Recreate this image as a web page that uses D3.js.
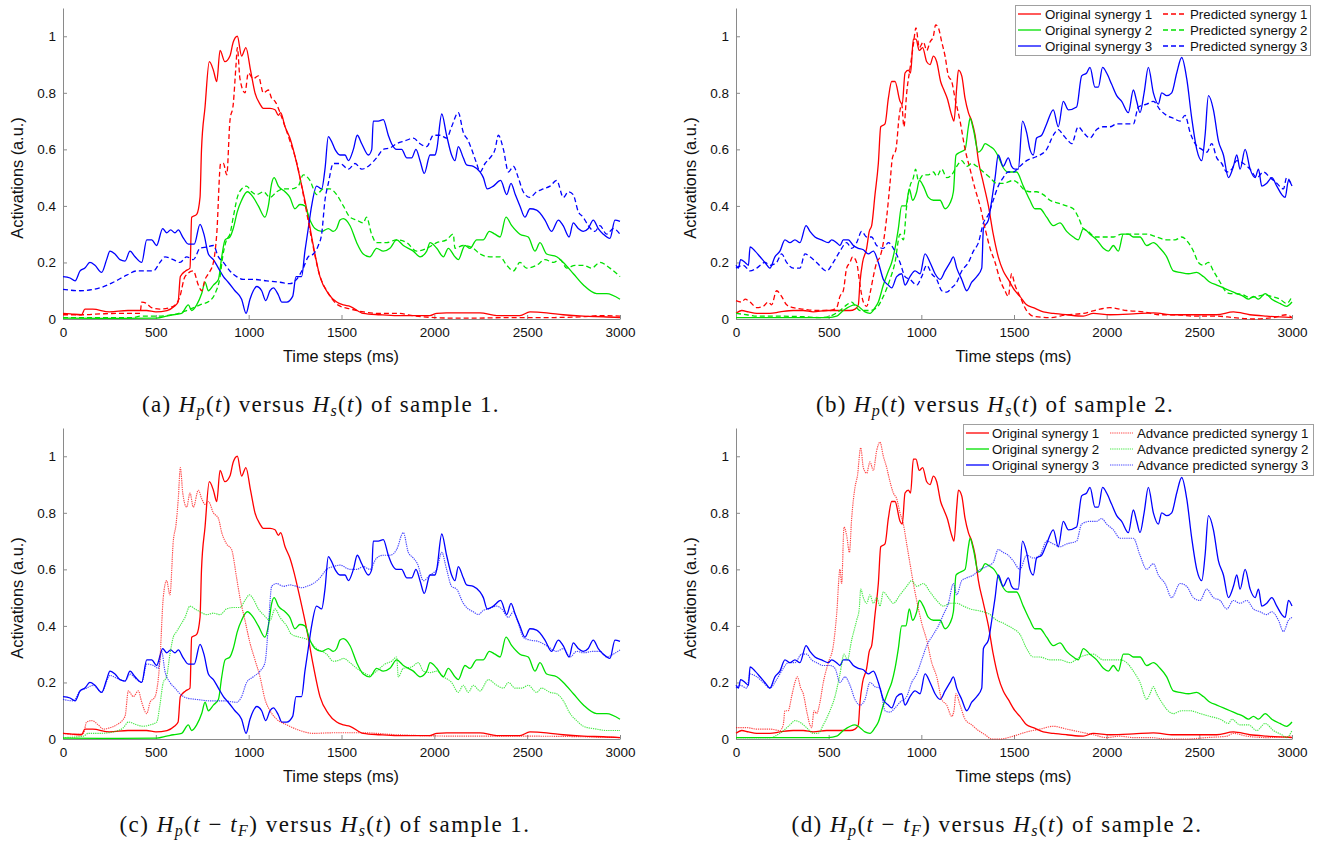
<!DOCTYPE html>
<html>
<head>
<meta charset="utf-8">
<script src="https://cdn.jsdelivr.net/npm/d3@7"></script>
<style>
  html, body { margin: 0; padding: 0; background: #fff; }
  svg { display: block; }
</style>
</head>
<body>
<svg id="chart" width="1330" height="843"></svg>
<script>
// ---------------- DATA ----------------
const xTicks = [0, 500, 1000, 1500, 2000, 2500, 3000];
const yTicks = [0, 0.2, 0.4, 0.6, 0.8, 1];
const yTickLabels = ["0", "0.2", "0.4", "0.6", "0.8", "1"];
const xLabel = "Time steps (ms)";
const yLabel = "Activations (a.u.)";
const origNames = ["Original synergy 1", "Original synergy 2", "Original synergy 3"];
const predNames = ["Predicted synergy 1", "Predicted synergy 2", "Predicted synergy 3"];
const advNames = ["Advance predicted synergy 1", "Advance predicted synergy 2", "Advance predicted synergy 3"];
const seriesColors = ["#ff0000", "#00e100", "#0000ff"];

// Sample 1 — original synergies [time ms, activation]
const s1_orig1 = [[0,0.02],[40,0.018],[100,0.015],[118,0.035],[160,0.035],[250,0.025],[350,0.03],[450,0.03],[500,0.025],[560,0.03],[600,0.045],[620,0.06],[632,0.15],[660,0.17],[684,0.18],[693,0.36],[720,0.37],[738,0.43],[746,0.6],[765,0.75],[788,0.91],[810,0.88],[828,0.84],[846,0.95],[872,0.91],[899,0.93],[917,0.98],[939,1.0],[962,0.93],[985,0.96],[1010,0.88],[1034,0.8],[1061,0.76],[1079,0.745],[1115,0.745],[1142,0.74],[1160,0.72],[1172,0.73],[1196,0.68],[1222,0.64],[1240,0.6],[1276,0.5],[1312,0.39],[1348,0.26],[1384,0.15],[1429,0.09],[1474,0.06],[1510,0.05],[1546,0.045],[1617,0.02],[1707,0.015],[1800,0.012],[1976,0.012],[2013,0.02],[2066,0.022],[2246,0.022],[2336,0.012],[2461,0.012],[2515,0.025],[2605,0.022],[2694,0.015],[2802,0.01],[2910,0.008],[3000,0.005]];
const s1_orig2 = [[0,0.003],[300,0.002],[505,0.003],[558,0.01],[594,0.015],[639,0.02],[675,0.05],[693,0.03],[720,0.05],[747,0.09],[765,0.13],[783,0.1],[810,0.12],[837,0.14],[855,0.22],[873,0.28],[899,0.29],[917,0.32],[939,0.38],[962,0.42],[993,0.45],[1025,0.43],[1052,0.4],[1088,0.36],[1106,0.4],[1124,0.48],[1137,0.5],[1160,0.47],[1196,0.45],[1222,0.43],[1249,0.39],[1276,0.405],[1303,0.4],[1330,0.35],[1357,0.32],[1393,0.31],[1429,0.32],[1456,0.31],[1474,0.32],[1492,0.35],[1510,0.355],[1546,0.33],[1582,0.27],[1617,0.23],[1653,0.22],[1689,0.25],[1725,0.24],[1761,0.25],[1797,0.28],[1833,0.26],[1887,0.24],[1923,0.22],[1959,0.24],[1977,0.27],[2013,0.25],[2049,0.22],[2075,0.25],[2111,0.22],[2129,0.21],[2165,0.26],[2192,0.25],[2228,0.28],[2264,0.28],[2296,0.31],[2327,0.3],[2354,0.29],[2386,0.36],[2417,0.33],[2461,0.3],[2506,0.29],[2542,0.24],[2569,0.27],[2605,0.23],[2659,0.22],[2695,0.2],[2749,0.16],[2803,0.12],[2874,0.09],[2928,0.09],[3000,0.07]];
const s1_orig3 = [[0,0.15],[38,0.145],[65,0.135],[92,0.17],[118,0.18],[145,0.2],[172,0.19],[208,0.165],[235,0.21],[253,0.24],[280,0.23],[307,0.21],[334,0.205],[361,0.24],[388,0.22],[424,0.2],[451,0.28],[478,0.28],[504,0.26],[537,0.32],[558,0.305],[580,0.315],[603,0.305],[621,0.315],[645,0.29],[675,0.265],[707,0.265],[738,0.335],[759,0.3],[783,0.23],[810,0.21],[837,0.18],[864,0.15],[890,0.13],[926,0.1],[962,0.07],[986,0.02],[1007,0.07],[1025,0.1],[1043,0.115],[1070,0.1],[1092,0.065],[1115,0.1],[1133,0.11],[1160,0.085],[1178,0.06],[1205,0.06],[1237,0.08],[1255,0.15],[1285,0.15],[1303,0.24],[1321,0.32],[1339,0.4],[1366,0.47],[1393,0.46],[1411,0.53],[1429,0.645],[1445,0.63],[1465,0.6],[1492,0.58],[1519,0.58],[1537,0.56],[1564,0.6],[1585,0.65],[1609,0.62],[1645,0.58],[1663,0.6],[1671,0.7],[1698,0.7],[1725,0.705],[1752,0.65],[1770,0.62],[1797,0.6],[1824,0.6],[1851,0.57],[1878,0.57],[1901,0.6],[1923,0.56],[1946,0.515],[1977,0.58],[2004,0.58],[2013,0.6],[2040,0.725],[2066,0.65],[2093,0.58],[2111,0.56],[2129,0.61],[2156,0.57],[2174,0.545],[2210,0.54],[2246,0.52],[2264,0.5],[2285,0.46],[2318,0.47],[2357,0.49],[2390,0.44],[2413,0.48],[2436,0.44],[2461,0.4],[2488,0.36],[2515,0.39],[2551,0.385],[2596,0.35],[2631,0.31],[2668,0.35],[2694,0.33],[2726,0.29],[2748,0.34],[2775,0.32],[2802,0.31],[2829,0.32],[2856,0.35],[2883,0.32],[2910,0.3],[2946,0.285],[2973,0.35],[3000,0.345]];

// Sample 1 — predicted synergies
const s1_pred1 = [[0,0.015],[100,0.015],[200,0.018],[300,0.02],[415,0.02],[424,0.06],[450,0.055],[477,0.04],[522,0.035],[594,0.045],[630,0.08],[657,0.15],[702,0.17],[729,0.12],[747,0.1],[765,0.14],[783,0.16],[810,0.2],[828,0.3],[849,0.55],[864,0.55],[882,0.51],[899,0.7],[917,0.76],[932,0.9],[939,0.96],[953,0.85],[980,0.8],[998,0.87],[1025,0.85],[1052,0.86],[1079,0.8],[1106,0.81],[1124,0.78],[1142,0.77],[1169,0.73],[1196,0.68],[1222,0.63],[1260,0.55],[1300,0.42],[1340,0.28],[1380,0.16],[1430,0.09],[1480,0.05],[1550,0.035],[1620,0.025],[1700,0.02],[1800,0.02],[1900,0.01],[2000,0.005],[2100,0.003],[2200,0.003],[2400,0.005],[2600,0.005],[2800,0.008],[2900,0.012],[3000,0.01]];
const s1_pred2 = [[0,0.005],[200,0.005],[379,0.005],[415,0.01],[487,0.01],[594,0.015],[666,0.03],[738,0.05],[792,0.065],[819,0.09],[846,0.15],[860,0.22],[881,0.28],[899,0.3],[917,0.36],[939,0.43],[962,0.46],[989,0.47],[1016,0.45],[1043,0.44],[1079,0.45],[1115,0.43],[1151,0.45],[1187,0.46],[1231,0.46],[1267,0.47],[1294,0.51],[1330,0.49],[1366,0.44],[1402,0.46],[1438,0.46],[1474,0.44],[1510,0.4],[1546,0.36],[1582,0.35],[1617,0.34],[1635,0.36],[1662,0.3],[1689,0.27],[1743,0.27],[1797,0.28],[1851,0.27],[1905,0.24],[1959,0.25],[2013,0.27],[2066,0.28],[2102,0.3],[2111,0.25],[2156,0.26],[2210,0.25],[2246,0.23],[2300,0.22],[2354,0.22],[2390,0.19],[2426,0.17],[2461,0.2],[2497,0.18],[2551,0.19],[2596,0.21],[2641,0.2],[2677,0.21],[2713,0.18],[2758,0.19],[2803,0.19],[2847,0.18],[2892,0.2],[2946,0.18],[3000,0.15]];
const s1_pred3 = [[0,0.105],[92,0.1],[199,0.11],[271,0.13],[343,0.155],[397,0.17],[451,0.17],[487,0.17],[522,0.2],[549,0.22],[594,0.21],[630,0.2],[666,0.22],[702,0.21],[738,0.25],[774,0.255],[810,0.26],[837,0.22],[864,0.2],[899,0.17],[935,0.15],[971,0.14],[1025,0.14],[1097,0.135],[1169,0.13],[1222,0.125],[1258,0.14],[1294,0.18],[1321,0.22],[1348,0.23],[1375,0.26],[1393,0.3],[1411,0.42],[1429,0.48],[1456,0.55],[1492,0.55],[1537,0.53],[1573,0.55],[1609,0.53],[1653,0.545],[1689,0.57],[1725,0.6],[1761,0.605],[1797,0.62],[1842,0.63],[1887,0.64],[1923,0.62],[1959,0.61],[1995,0.65],[2031,0.65],[2066,0.64],[2093,0.68],[2129,0.73],[2156,0.66],[2183,0.63],[2201,0.6],[2228,0.55],[2246,0.52],[2273,0.55],[2300,0.57],[2327,0.6],[2345,0.65],[2372,0.6],[2399,0.52],[2426,0.54],[2452,0.5],[2479,0.45],[2515,0.43],[2551,0.45],[2587,0.46],[2623,0.47],[2659,0.49],[2695,0.43],[2722,0.45],[2748,0.44],[2775,0.38],[2802,0.36],[2829,0.33],[2865,0.31],[2892,0.33],[2928,0.3],[2964,0.32],[3000,0.3]];

// Sample 1 — advance predicted synergies
const s1_adv1 = [[0,0.02],[56,0.015],[110,0.02],[127,0.06],[154,0.065],[190,0.05],[217,0.035],[253,0.04],[289,0.05],[334,0.08],[352,0.17],[379,0.15],[406,0.17],[424,0.13],[451,0.09],[469,0.13],[496,0.15],[522,0.28],[540,0.5],[558,0.56],[576,0.51],[594,0.7],[609,0.76],[621,0.85],[632,0.96],[645,0.87],[666,0.82],[684,0.87],[702,0.82],[729,0.88],[747,0.85],[765,0.83],[783,0.84],[810,0.8],[837,0.78],[855,0.73],[881,0.69],[908,0.67],[935,0.57],[953,0.5],[980,0.42],[1007,0.34],[1034,0.28],[1061,0.22],[1088,0.14],[1115,0.1],[1151,0.07],[1205,0.05],[1276,0.03],[1348,0.02],[1456,0.022],[1617,0.022],[1797,0.015],[2156,0.01],[2515,0.01],[3000,0.005]];
const s1_adv2 = [[0,0.005],[110,0.01],[136,0.02],[199,0.02],[271,0.025],[325,0.04],[352,0.06],[397,0.05],[433,0.045],[469,0.05],[505,0.06],[522,0.12],[540,0.2],[558,0.22],[576,0.3],[594,0.36],[612,0.38],[630,0.4],[657,0.43],[684,0.47],[711,0.46],[738,0.45],[774,0.44],[810,0.445],[846,0.44],[881,0.46],[917,0.465],[953,0.465],[980,0.49],[1004,0.51],[1025,0.495],[1052,0.46],[1079,0.44],[1115,0.42],[1142,0.46],[1169,0.43],[1205,0.4],[1231,0.37],[1276,0.36],[1321,0.35],[1366,0.32],[1420,0.3],[1456,0.275],[1492,0.28],[1510,0.285],[1546,0.27],[1582,0.25],[1617,0.235],[1653,0.225],[1689,0.24],[1734,0.265],[1770,0.275],[1797,0.29],[1806,0.22],[1833,0.25],[1878,0.255],[1914,0.27],[1941,0.24],[1977,0.235],[2013,0.24],[2049,0.22],[2093,0.2],[2129,0.165],[2156,0.19],[2183,0.165],[2210,0.19],[2246,0.17],[2291,0.21],[2336,0.19],[2372,0.18],[2399,0.2],[2435,0.18],[2470,0.18],[2506,0.19],[2551,0.165],[2578,0.18],[2623,0.165],[2659,0.16],[2695,0.135],[2731,0.09],[2767,0.065],[2803,0.045],[2874,0.035],[2928,0.03],[3000,0.03]];
const s1_adv3 = [[0,0.14],[56,0.135],[92,0.17],[127,0.18],[163,0.19],[208,0.165],[253,0.225],[289,0.215],[334,0.205],[361,0.23],[397,0.21],[424,0.2],[451,0.265],[487,0.26],[513,0.25],[531,0.31],[549,0.24],[576,0.2],[603,0.18],[630,0.16],[666,0.145],[720,0.14],[792,0.135],[864,0.135],[935,0.13],[962,0.15],[989,0.2],[1025,0.22],[1061,0.24],[1088,0.27],[1106,0.4],[1124,0.54],[1151,0.55],[1187,0.54],[1222,0.545],[1258,0.54],[1285,0.535],[1312,0.54],[1348,0.55],[1384,0.57],[1420,0.6],[1456,0.61],[1492,0.615],[1546,0.6],[1582,0.6],[1617,0.61],[1653,0.6],[1689,0.64],[1725,0.65],[1761,0.65],[1797,0.67],[1833,0.73],[1860,0.66],[1887,0.64],[1909,0.62],[1941,0.56],[1977,0.58],[2013,0.6],[2040,0.66],[2066,0.6],[2093,0.54],[2120,0.53],[2156,0.48],[2183,0.46],[2210,0.45],[2237,0.44],[2264,0.455],[2291,0.46],[2336,0.47],[2363,0.46],[2399,0.43],[2426,0.45],[2452,0.41],[2479,0.36],[2515,0.35],[2560,0.345],[2605,0.33],[2659,0.31],[2695,0.32],[2731,0.29],[2767,0.31],[2802,0.305],[2856,0.31],[2892,0.31],[2928,0.29],[2964,0.3],[3000,0.315]];

// Sample 2 — original synergies
const s2_orig1 = [[0,0.02],[31,0.03],[67,0.025],[112,0.02],[183,0.02],[237,0.025],[309,0.03],[363,0.03],[417,0.025],[489,0.03],[561,0.03],[615,0.03],[642,0.035],[660,0.05],[669,0.13],[683,0.2],[705,0.25],[719,0.31],[732,0.33],[750,0.44],[768,0.55],[781,0.68],[804,0.69],[822,0.78],[840,0.84],[858,0.84],[885,0.77],[897,0.76],[912,0.87],[930,0.88],[942,0.87],[957,0.99],[971,0.99],[989,0.95],[1007,0.96],[1029,0.91],[1047,0.9],[1065,0.93],[1083,0.91],[1104,0.84],[1122,0.81],[1140,0.78],[1164,0.72],[1176,0.7],[1191,0.82],[1200,0.88],[1218,0.86],[1236,0.78],[1254,0.73],[1272,0.7],[1290,0.65],[1308,0.56],[1335,0.48],[1362,0.4],[1388,0.3],[1415,0.22],[1442,0.17],[1469,0.14],[1505,0.1],[1532,0.08],[1568,0.05],[1604,0.04],[1658,0.025],[1712,0.02],[1784,0.015],[1874,0.01],[1928,0.02],[2018,0.015],[2144,0.018],[2252,0.022],[2360,0.015],[2504,0.015],[2594,0.015],[2684,0.025],[2773,0.015],[2863,0.01],[3000,0.005]];
const s2_orig2 = [[0,0.005],[300,0.005],[500,0.005],[543,0.01],[579,0.03],[642,0.05],[669,0.04],[696,0.025],[723,0.02],[750,0.04],[768,0.06],[795,0.12],[822,0.17],[840,0.2],[858,0.25],[876,0.32],[894,0.4],[917,0.4],[935,0.46],[953,0.42],[975,0.45],[989,0.49],[1011,0.47],[1038,0.43],[1065,0.42],[1101,0.42],[1128,0.39],[1155,0.41],[1173,0.45],[1187,0.58],[1209,0.59],[1236,0.6],[1254,0.68],[1263,0.71],[1281,0.67],[1308,0.59],[1326,0.6],[1344,0.62],[1371,0.61],[1392,0.6],[1415,0.575],[1442,0.535],[1469,0.52],[1496,0.52],[1514,0.52],[1550,0.47],[1586,0.42],[1613,0.39],[1640,0.39],[1676,0.36],[1712,0.33],[1748,0.34],[1784,0.31],[1820,0.29],[1847,0.28],[1874,0.32],[1910,0.3],[1946,0.28],[1982,0.25],[2009,0.24],[2036,0.26],[2063,0.24],[2090,0.3],[2117,0.3],[2144,0.29],[2180,0.29],[2216,0.26],[2252,0.27],[2288,0.25],[2324,0.22],[2360,0.17],[2396,0.165],[2441,0.16],[2486,0.165],[2522,0.15],[2558,0.13],[2594,0.12],[2630,0.11],[2666,0.1],[2702,0.09],[2738,0.08],[2765,0.07],[2792,0.08],[2819,0.07],[2855,0.09],[2891,0.07],[2935,0.055],[2971,0.045],[3000,0.06]];
const s2_orig3 = [[0,0.19],[13,0.18],[25,0.21],[49,0.2],[67,0.19],[76,0.255],[103,0.24],[130,0.22],[156,0.2],[183,0.18],[210,0.22],[237,0.24],[264,0.28],[291,0.27],[318,0.28],[345,0.27],[378,0.33],[399,0.31],[426,0.29],[462,0.28],[498,0.27],[516,0.28],[543,0.27],[561,0.26],[579,0.28],[606,0.28],[633,0.26],[660,0.25],[687,0.245],[714,0.23],[741,0.24],[768,0.2],[795,0.14],[822,0.12],[840,0.11],[867,0.15],[894,0.16],[912,0.12],[939,0.15],[966,0.17],[993,0.16],[1020,0.23],[1047,0.2],[1074,0.16],[1101,0.14],[1128,0.17],[1155,0.2],[1173,0.22],[1191,0.18],[1218,0.14],[1245,0.1],[1272,0.13],[1299,0.15],[1326,0.18],[1335,0.32],[1362,0.35],[1380,0.42],[1398,0.5],[1415,0.58],[1442,0.54],[1469,0.57],[1487,0.54],[1505,0.53],[1523,0.53],[1546,0.7],[1568,0.66],[1586,0.6],[1604,0.58],[1622,0.64],[1649,0.65],[1676,0.69],[1712,0.74],[1739,0.68],[1766,0.77],[1793,0.74],[1838,0.75],[1865,0.86],[1892,0.87],[1910,0.89],[1937,0.82],[1955,0.82],[1978,0.89],[2000,0.87],[2027,0.83],[2054,0.79],[2081,0.77],[2117,0.73],[2144,0.81],[2162,0.77],[2180,0.73],[2202,0.8],[2225,0.89],[2252,0.8],[2279,0.76],[2297,0.8],[2324,0.79],[2351,0.8],[2378,0.87],[2405,0.925],[2432,0.85],[2459,0.71],[2486,0.6],[2513,0.56],[2531,0.65],[2549,0.79],[2576,0.74],[2603,0.63],[2630,0.58],[2657,0.5],[2684,0.54],[2702,0.58],[2720,0.53],[2747,0.6],[2774,0.53],[2801,0.5],[2819,0.53],[2837,0.47],[2864,0.48],[2891,0.5],[2918,0.47],[2945,0.44],[2963,0.43],[2981,0.49],[3000,0.47]];

// Sample 2 — predicted synergies
const s2_pred1 = [[0,0.065],[31,0.06],[49,0.07],[76,0.06],[112,0.04],[147,0.045],[174,0.06],[192,0.05],[219,0.1],[246,0.08],[273,0.05],[309,0.04],[363,0.035],[435,0.03],[507,0.03],[543,0.04],[561,0.08],[579,0.1],[597,0.18],[615,0.2],[629,0.22],[651,0.2],[669,0.12],[687,0.06],[705,0.045],[723,0.09],[741,0.15],[759,0.2],[777,0.22],[795,0.27],[813,0.36],[831,0.48],[844,0.57],[863,0.6],[881,0.72],[894,0.76],[906,0.68],[921,0.8],[942,0.9],[957,0.97],[971,1.03],[989,0.96],[1011,0.98],[1029,0.95],[1047,0.98],[1065,1.0],[1077,1.04],[1092,1.03],[1110,0.98],[1128,0.93],[1146,0.86],[1164,0.84],[1182,0.78],[1209,0.7],[1236,0.6],[1263,0.53],[1290,0.46],[1317,0.4],[1344,0.32],[1371,0.25],[1398,0.2],[1424,0.14],[1451,0.1],[1469,0.08],[1487,0.16],[1505,0.12],[1532,0.08],[1568,0.03],[1604,0.01],[1694,0.005],[1784,0.015],[1874,0.02],[1964,0.035],[2018,0.04],[2108,0.03],[2198,0.025],[2288,0.015],[2378,0.015],[2468,0.01],[2594,0.01],[2684,0.005],[2791,0.0],[2899,0.005],[2971,0.015],[3000,0.005]];
const s2_pred2 = [[0,0.02],[58,0.015],[112,0.01],[219,0.01],[363,0.008],[453,0.005],[507,0.01],[561,0.03],[597,0.05],[624,0.06],[651,0.04],[669,0.03],[723,0.03],[759,0.04],[795,0.08],[831,0.14],[858,0.2],[885,0.3],[903,0.28],[921,0.4],[939,0.47],[957,0.5],[969,0.53],[984,0.49],[1011,0.51],[1038,0.51],[1065,0.52],[1083,0.505],[1110,0.53],[1137,0.5],[1164,0.51],[1191,0.54],[1218,0.56],[1245,0.54],[1272,0.55],[1299,0.54],[1335,0.52],[1371,0.5],[1406,0.48],[1442,0.48],[1496,0.49],[1523,0.48],[1550,0.46],[1586,0.45],[1622,0.45],[1658,0.44],[1694,0.42],[1739,0.41],[1784,0.4],[1820,0.39],[1847,0.36],[1874,0.32],[1901,0.31],[1937,0.29],[1982,0.29],[2036,0.29],[2081,0.3],[2117,0.3],[2162,0.3],[2216,0.3],[2270,0.29],[2324,0.28],[2369,0.28],[2405,0.29],[2441,0.27],[2468,0.24],[2495,0.2],[2522,0.19],[2549,0.2],[2576,0.17],[2612,0.13],[2639,0.1],[2666,0.09],[2702,0.09],[2738,0.085],[2774,0.075],[2810,0.08],[2855,0.085],[2891,0.08],[2935,0.07],[2971,0.055],[3000,0.08]];
const s2_pred3 = [[0,0.18],[40,0.19],[76,0.17],[112,0.18],[156,0.2],[183,0.19],[219,0.2],[246,0.23],[273,0.2],[309,0.18],[345,0.18],[372,0.23],[399,0.22],[435,0.2],[489,0.17],[525,0.2],[561,0.24],[597,0.27],[624,0.25],[651,0.27],[678,0.31],[705,0.29],[732,0.29],[759,0.26],[795,0.25],[822,0.27],[849,0.25],[885,0.2],[912,0.15],[939,0.14],[975,0.12],[1002,0.15],[1029,0.19],[1056,0.16],[1083,0.14],[1110,0.1],[1137,0.095],[1164,0.11],[1191,0.13],[1218,0.17],[1254,0.2],[1281,0.24],[1308,0.27],[1335,0.34],[1362,0.37],[1388,0.42],[1415,0.47],[1442,0.5],[1469,0.52],[1496,0.52],[1532,0.54],[1568,0.56],[1604,0.57],[1640,0.58],[1676,0.6],[1712,0.65],[1739,0.67],[1766,0.65],[1793,0.63],[1811,0.62],[1847,0.68],[1874,0.66],[1910,0.64],[1946,0.67],[1982,0.68],[2018,0.68],[2054,0.69],[2090,0.69],[2144,0.69],[2171,0.75],[2216,0.76],[2252,0.77],[2288,0.74],[2324,0.72],[2360,0.71],[2396,0.7],[2423,0.72],[2450,0.66],[2477,0.62],[2513,0.6],[2540,0.59],[2567,0.62],[2594,0.57],[2621,0.55],[2648,0.52],[2675,0.53],[2702,0.56],[2738,0.55],[2774,0.53],[2810,0.5],[2846,0.52],[2882,0.5],[2918,0.48],[2954,0.46],[2971,0.5],[3000,0.47]];

// Sample 2 — advance predicted synergies
const s2_adv1 = [[0,0.04],[58,0.04],[112,0.035],[183,0.035],[237,0.03],[255,0.05],[264,0.1],[282,0.1],[300,0.15],[318,0.2],[331,0.22],[349,0.18],[363,0.16],[381,0.1],[399,0.05],[408,0.04],[421,0.1],[435,0.09],[453,0.13],[471,0.2],[498,0.27],[525,0.33],[543,0.44],[561,0.6],[570,0.55],[583,0.75],[597,0.72],[612,0.66],[624,0.78],[642,0.89],[655,0.93],[673,1.03],[687,0.96],[705,0.94],[723,0.98],[741,0.95],[759,1.02],[777,1.05],[795,1.0],[813,0.96],[831,0.91],[849,0.87],[867,0.85],[885,0.8],[903,0.76],[921,0.69],[939,0.62],[957,0.55],[975,0.49],[1002,0.41],[1029,0.35],[1056,0.27],[1083,0.22],[1110,0.14],[1137,0.12],[1164,0.08],[1176,0.1],[1187,0.16],[1209,0.12],[1236,0.07],[1272,0.05],[1308,0.03],[1344,0.015],[1380,0.0],[1424,0.0],[1496,0.01],[1568,0.025],[1640,0.035],[1712,0.045],[1784,0.035],[1856,0.025],[1928,0.015],[2000,0.005],[2072,0.01],[2144,0.005],[2234,0.005],[2324,0.0],[2432,0.0],[2540,0.005],[2648,0.01],[2684,0.02],[2756,0.01],[2864,0.005],[3000,0.01]];
const s2_adv2 = [[0,0.005],[183,0.005],[237,0.02],[291,0.05],[318,0.065],[354,0.055],[381,0.04],[417,0.02],[444,0.02],[471,0.05],[507,0.1],[534,0.15],[561,0.23],[583,0.3],[601,0.28],[624,0.35],[651,0.42],[665,0.46],[673,0.53],[687,0.5],[705,0.48],[723,0.51],[741,0.48],[759,0.5],[777,0.47],[795,0.52],[822,0.5],[849,0.48],[885,0.51],[921,0.54],[948,0.56],[975,0.54],[1011,0.55],[1047,0.52],[1083,0.49],[1119,0.47],[1155,0.48],[1191,0.48],[1227,0.47],[1263,0.46],[1299,0.455],[1335,0.45],[1371,0.44],[1406,0.42],[1442,0.41],[1469,0.4],[1496,0.39],[1532,0.37],[1568,0.32],[1604,0.29],[1640,0.29],[1694,0.28],[1748,0.28],[1802,0.27],[1856,0.29],[1928,0.3],[1982,0.28],[2036,0.28],[2072,0.28],[2108,0.27],[2144,0.24],[2180,0.2],[2216,0.14],[2234,0.16],[2252,0.185],[2270,0.16],[2297,0.13],[2324,0.105],[2360,0.09],[2405,0.1],[2450,0.1],[2504,0.09],[2558,0.08],[2612,0.07],[2657,0.055],[2675,0.07],[2720,0.05],[2765,0.05],[2810,0.03],[2855,0.055],[2900,0.03],[2945,0.015],[2971,0.005],[3000,0.03]];
const s2_adv3 = [[0,0.18],[22,0.19],[58,0.18],[76,0.23],[112,0.22],[147,0.2],[183,0.18],[219,0.21],[255,0.25],[282,0.27],[318,0.27],[354,0.3],[381,0.3],[408,0.28],[435,0.27],[471,0.26],[507,0.26],[534,0.25],[561,0.2],[588,0.22],[615,0.19],[642,0.14],[669,0.12],[696,0.14],[723,0.2],[750,0.185],[777,0.18],[804,0.1],[831,0.095],[858,0.11],[885,0.13],[921,0.15],[948,0.2],[975,0.23],[1002,0.28],[1029,0.33],[1065,0.37],[1092,0.4],[1119,0.44],[1146,0.48],[1173,0.55],[1191,0.51],[1218,0.56],[1245,0.57],[1281,0.58],[1317,0.6],[1353,0.61],[1388,0.625],[1415,0.67],[1442,0.66],[1469,0.65],[1496,0.63],[1532,0.6],[1568,0.65],[1604,0.64],[1640,0.65],[1676,0.7],[1712,0.69],[1748,0.68],[1784,0.69],[1838,0.7],[1865,0.76],[1910,0.77],[1946,0.77],[1973,0.78],[2000,0.76],[2036,0.74],[2072,0.71],[2108,0.71],[2144,0.71],[2180,0.65],[2216,0.6],[2252,0.62],[2279,0.58],[2315,0.55],[2351,0.5],[2396,0.55],[2432,0.54],[2468,0.5],[2504,0.49],[2540,0.53],[2576,0.5],[2612,0.49],[2648,0.46],[2684,0.49],[2720,0.48],[2756,0.49],[2792,0.46],[2828,0.45],[2864,0.44],[2891,0.45],[2927,0.42],[2954,0.38],[2981,0.42],[3000,0.43]];

// Captions: [text, style] where style: "r" roman, "i" italic, "s" italic subscript
const captionA = [["(a) ","r"],["H","i"],["p","s"],["(","r"],["t","i"],[")","r"],[" versus ","r"],["H","i"],["s","s"],["(","r"],["t","i"],[")","r"],[" of sample 1.","r"]];
const captionB = [["(b) ","r"],["H","i"],["p","s"],["(","r"],["t","i"],[")","r"],[" versus ","r"],["H","i"],["s","s"],["(","r"],["t","i"],[")","r"],[" of sample 2.","r"]];
const captionC = [["(c) ","r"],["H","i"],["p","s"],["(","r"],["t","i"],[" \u2212 ","r"],["t","i"],["F","s"],[")","r"],[" versus ","r"],["H","i"],["s","s"],["(","r"],["t","i"],[")","r"],[" of sample 1.","r"]];
const captionD = [["(d) ","r"],["H","i"],["p","s"],["(","r"],["t","i"],[" \u2212 ","r"],["t","i"],["F","s"],[")","r"],[" versus ","r"],["H","i"],["s","s"],["(","r"],["t","i"],[")","r"],[" of sample 2.","r"]];

// ---------------- LAYOUT ----------------
const svg = d3.select("#chart");
svg.append("rect").attr("width", 1330).attr("height", 843).attr("fill", "#fff");

const sansFont = "Liberation Sans, Arial, Helvetica, sans-serif";
const serifFont = "Liberation Serif, Times New Roman, DejaVu Serif, serif";
const axisColor = "#8a8a8a";

const panels = [
  { x0: 63,  x1: 620,  yb: 319, yt: 8,   orig: [s1_orig1, s1_orig2, s1_orig3], other: [s1_pred1, s1_pred2, s1_pred3], kind: "dash", legend: null, caption: captionA, capX: 321, capY: 412, capW: 358 },
  { x0: 736, x1: 1292, yb: 319, yt: 8,   orig: [s2_orig1, s2_orig2, s2_orig3], other: [s2_pred1, s2_pred2, s2_pred3], kind: "dash", legend: { x: 1015, y: 5, w: 295, h: 50, l1: 1018, t1: 1045, l2: 1163, t2: 1190, names2: predNames }, caption: captionB, capX: 995, capY: 412, capW: 358 },
  { x0: 63,  x1: 620,  yb: 739, yt: 428, orig: [s1_orig1, s1_orig2, s1_orig3], other: [s1_adv1, s1_adv2, s1_adv3], kind: "dot", legend: null, caption: captionC, capX: 325, capY: 832, capW: 411 },
  { x0: 736, x1: 1292, yb: 739, yt: 428, orig: [s2_orig1, s2_orig2, s2_orig3], other: [s2_adv1, s2_adv2, s2_adv3], kind: "dot", legend: { x: 963, y: 424, w: 350, h: 51, l1: 966, t1: 992, l2: 1110, t2: 1137, names2: advNames }, caption: captionD, capX: 997, capY: 832, capW: 411 }
];

const styleFor = (kind) => kind === "dash"
  ? { width: 1.3, dash: "5,3", opacity: 1 }
  : { width: 1.15, dash: "1.3,0.9", opacity: 0.72 };

panels.forEach(p => {
  const x = d3.scaleLinear().domain([0, 3000]).range([p.x0, p.x1]);
  const y = d3.scaleLinear().domain([0, 1.1]).range([p.yb, p.yt]);
  const g = svg.append("g");

  // axes
  const xAxis = d3.axisBottom(x).tickValues(xTicks).tickFormat(d3.format("d")).tickSizeInner(-4).tickSizeOuter(0).tickPadding(8);
  const yAxis = d3.axisLeft(y).tickValues(yTicks).tickFormat((d, i) => yTickLabels[i]).tickSizeInner(-4).tickSizeOuter(0).tickPadding(7);
  const gx = g.append("g").attr("transform", `translate(0,${p.yb})`).call(xAxis);
  const gy = g.append("g").attr("transform", `translate(${p.x0},0)`).call(yAxis);
  [gx, gy].forEach(a => {
    a.attr("font-family", null).attr("font-size", null);
    a.select(".domain").attr("stroke", axisColor).attr("stroke-width", 1);
    a.selectAll(".tick line").attr("stroke", axisColor).attr("stroke-width", 1);
    a.selectAll(".tick text").attr("fill", "#111").style("font-family", sansFont).style("font-size", "13.5px");
  });

  // axis labels
  g.append("text").attr("x", (p.x0 + p.x1) / 2 - 0.5).attr("y", p.yb + 43)
    .attr("text-anchor", "middle").style("font-family", sansFont).style("font-size", "16.3px").attr("fill", "#111").text(xLabel);
  g.append("text").attr("transform", `translate(${p.x0 - 40},${p.yb - 141}) rotate(-90)`)
    .attr("text-anchor", "middle").style("font-family", sansFont).style("font-size", "16.3px").attr("fill", "#111").text(yLabel);

  // lines
  const line = d3.line().x(d => x(d[0])).y(d => y(d[1])).curve(d3.curveMonotoneX);
  const lines = g.append("g");
  p.orig.forEach((s, i) => {
    lines.append("path").attr("d", line(s)).attr("fill", "none")
      .attr("stroke", seriesColors[i]).attr("stroke-width", 1.3).attr("stroke-linejoin", "round");
  });
  const st = styleFor(p.kind);
  p.other.forEach((s, i) => {
    lines.append("path").attr("d", line(s)).attr("fill", "none")
      .attr("stroke", seriesColors[i]).attr("stroke-width", st.width)
      .attr("stroke-dasharray", st.dash).attr("stroke-opacity", st.opacity);
  });

  // legend
  if (p.legend) {
    const L = p.legend;
    const lg = svg.append("g");
    lg.append("rect").attr("x", L.x + 0.5).attr("y", L.y + 0.5).attr("width", L.w).attr("height", L.h)
      .attr("fill", "#fff").attr("stroke", "#a0a0a0").attr("stroke-width", 1);
    const rowY = [L.y + 9, L.y + 25, L.y + 41];
    origNames.forEach((n, i) => {
      lg.append("line").attr("x1", L.l1).attr("x2", L.l1 + 23).attr("y1", rowY[i]).attr("y2", rowY[i])
        .attr("stroke", seriesColors[i]).attr("stroke-width", 1.3);
      lg.append("text").attr("x", L.t1).attr("y", rowY[i] + 4.7).style("font-family", sansFont)
        .style("font-size", "13.3px").attr("fill", "#111").text(n);
    });
    L.names2.forEach((n, i) => {
      lg.append("line").attr("x1", L.l2).attr("x2", L.l2 + 23).attr("y1", rowY[i]).attr("y2", rowY[i])
        .attr("stroke", seriesColors[i]).attr("stroke-width", st.width)
        .attr("stroke-dasharray", st.dash).attr("stroke-opacity", st.opacity);
      lg.append("text").attr("x", L.t2).attr("y", rowY[i] + 4.7).style("font-family", sansFont)
        .style("font-size", "13.3px").attr("fill", "#111").text(n);
    });
  }

  // caption
  const cap = svg.append("text").attr("x", p.capX).attr("y", p.capY).attr("text-anchor", "middle")
    .attr("font-family", serifFont).attr("font-size", 23).attr("fill", "#111");
  let shifted = false;
  p.caption.forEach(([t, s]) => {
    const ts = cap.append("tspan").text(t);
    if (s === "i" || s === "s") ts.attr("font-style", "italic");
    if (s === "s") { ts.attr("dy", 4).attr("font-size", 16); shifted = true; }
    else if (shifted) { ts.attr("dy", -4); shifted = false; }
  });
  const natural = cap.node().getComputedTextLength();
  const nChars = cap.text().length;
  const ls = Math.max(-1, Math.min(2, (p.capW - natural) / nChars));
  cap.attr("letter-spacing", ls.toFixed(2));
});
</script>
</body>
</html>
